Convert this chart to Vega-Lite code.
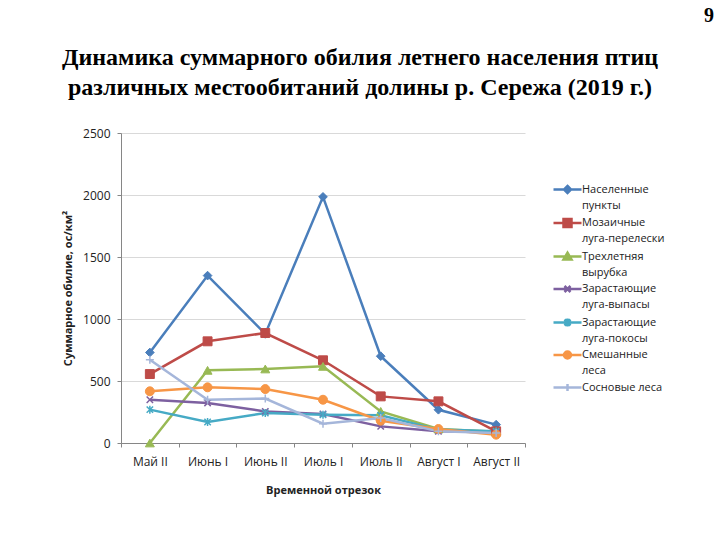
{
  "$schema": "https://vega.github.io/schema/vega-lite/v6.json",
  "width": 404,
  "height": 310,
  "autosize": {"type": "none"},
  "padding": {"left": 121, "top": 133, "right": 195, "bottom": 97},
  "background": "#ffffff",
  "title": {
    "text": ["Динамика суммарного обилия летнего населения птиц", "различных местообитаний долины р. Сережа (2019 г.)"],
    "font": "Liberation Serif",
    "fontSize": 24,
    "fontWeight": "bold",
    "color": "#000000",
    "anchor": "middle",
    "dx": 37,
    "dy": 123,
    "offset": 29,
    "lineHeight": 30
  },
  "config": {
    "view": {"stroke": null},
    "axis": {
      "labelFont": "Open Sans",
      "labelFontSize": 12,
      "labelColor": "#222222",
      "titleFont": "Open Sans",
      "titleFontSize": 11,
      "titleFontWeight": "bold",
      "titleColor": "#222222",
      "domainColor": "#868686",
      "tickColor": "#868686",
      "tickSize": 4
    }
  },
  "resolve": {"legend": {"fill": "independent", "stroke": "independent", "shape": "independent"}},
  "data": {
    "values": [
      {"period": "Май II", "series": "Населенные пункты", "value": 730},
      {"period": "Июнь I", "series": "Населенные пункты", "value": 1350},
      {"period": "Июнь II", "series": "Населенные пункты", "value": 880},
      {"period": "Июль I", "series": "Населенные пункты", "value": 1985},
      {"period": "Июль II", "series": "Населенные пункты", "value": 700},
      {"period": "Август I", "series": "Населенные пункты", "value": 268},
      {"period": "Август II", "series": "Населенные пункты", "value": 148},
      {"period": "Май II", "series": "Мозаичные луга-перелески", "value": 556},
      {"period": "Июнь I", "series": "Мозаичные луга-перелески", "value": 820},
      {"period": "Июнь II", "series": "Мозаичные луга-перелески", "value": 887},
      {"period": "Июль I", "series": "Мозаичные луга-перелески", "value": 667},
      {"period": "Июль II", "series": "Мозаичные луга-перелески", "value": 376},
      {"period": "Август I", "series": "Мозаичные луга-перелески", "value": 336},
      {"period": "Август II", "series": "Мозаичные луга-перелески", "value": 94},
      {"period": "Май II", "series": "Трехлетняя вырубка", "value": 0},
      {"period": "Июнь I", "series": "Трехлетняя вырубка", "value": 586},
      {"period": "Июнь II", "series": "Трехлетняя вырубка", "value": 597},
      {"period": "Июль I", "series": "Трехлетняя вырубка", "value": 618},
      {"period": "Июль II", "series": "Трехлетняя вырубка", "value": 255},
      {"period": "Август I", "series": "Трехлетняя вырубка", "value": 113},
      {"period": "Август II", "series": "Трехлетняя вырубка", "value": 90},
      {"period": "Май II", "series": "Зарастающие луга-выпасы", "value": 349},
      {"period": "Июнь I", "series": "Зарастающие луга-выпасы", "value": 323},
      {"period": "Июнь II", "series": "Зарастающие луга-выпасы", "value": 255},
      {"period": "Июль I", "series": "Зарастающие луга-выпасы", "value": 234},
      {"period": "Июль II", "series": "Зарастающие луга-выпасы", "value": 134},
      {"period": "Август I", "series": "Зарастающие луга-выпасы", "value": 94},
      {"period": "Август II", "series": "Зарастающие луга-выпасы", "value": 86},
      {"period": "Май II", "series": "Зарастающие луга-покосы", "value": 269},
      {"period": "Июнь I", "series": "Зарастающие луга-покосы", "value": 169},
      {"period": "Июнь II", "series": "Зарастающие луга-покосы", "value": 242},
      {"period": "Июль I", "series": "Зарастающие луга-покосы", "value": 228},
      {"period": "Июль II", "series": "Зарастающие луга-покосы", "value": 223},
      {"period": "Август I", "series": "Зарастающие луга-покосы", "value": 108},
      {"period": "Август II", "series": "Зарастающие луга-покосы", "value": 94},
      {"period": "Май II", "series": "Смешанные леса", "value": 417},
      {"period": "Июнь I", "series": "Смешанные леса", "value": 449},
      {"period": "Июнь II", "series": "Смешанные леса", "value": 435},
      {"period": "Июль I", "series": "Смешанные леса", "value": 349},
      {"period": "Июль II", "series": "Смешанные леса", "value": 180},
      {"period": "Август I", "series": "Смешанные леса", "value": 113},
      {"period": "Август II", "series": "Смешанные леса", "value": 67},
      {"period": "Май II", "series": "Сосновые леса", "value": 672},
      {"period": "Июнь I", "series": "Сосновые леса", "value": 349},
      {"period": "Июнь II", "series": "Сосновые леса", "value": 358},
      {"period": "Июль I", "series": "Сосновые леса", "value": 156},
      {"period": "Июль II", "series": "Сосновые леса", "value": 202},
      {"period": "Август I", "series": "Сосновые леса", "value": 94},
      {"period": "Август II", "series": "Сосновые леса", "value": 81}
    ]
  },
  "encoding": {
    "x": {
      "field": "period",
      "type": "nominal",
      "sort": null,
      "scale": {"type": "band", "domain": ["Май II", "Июнь I", "Июнь II", "Июль I", "Июль II", "Август I", "Август II"], "paddingInner": 0, "paddingOuter": 0},
      "axis": {"title": "Временной отрезок", "labelAngle": 0, "tickBand": "extent", "labelPadding": 9, "titlePadding": 17, "grid": false}
    },
    "y": {
      "field": "value",
      "type": "quantitative",
      "scale": {"domain": [0, 2500], "nice": false},
      "axis": {"title": "Суммарное обилие, ос/км²", "values": [0, 500, 1000, 1500, 2000, 2500], "format": "d", "grid": true, "gridColor": "#D9D9D9", "labelPadding": 7, "titlePadding": 9}
    },
    "stroke": {
      "field": "series",
      "type": "nominal",
      "scale": {"domain": ["Населенные пункты", "Мозаичные луга-перелески", "Трехлетняя вырубка", "Зарастающие луга-выпасы", "Зарастающие луга-покосы", "Смешанные леса", "Сосновые леса"], "range": ["#4A7EBB", "#BE4B48", "#98B954", "#7D60A0", "#46AAC5", "#F79646", "#A5B6DA"]},
      "legend": null
    }
  },
  "layer": [
    {
      "mark": {"type": "line", "strokeWidth": 2.5, "opacity": 1}
    },
    {
      "transform": [{"filter": "datum.series == 'Населенные пункты'"}],
      "mark": {"type": "point", "shape": "diamond", "filled": true, "size": 75, "opacity": 1, "strokeWidth": 1},
      "encoding": {"fill": {"field": "series", "type": "nominal", "scale": {"domain": ["Населенные пункты", "Мозаичные луга-перелески", "Трехлетняя вырубка", "Зарастающие луга-выпасы", "Зарастающие луга-покосы", "Смешанные леса", "Сосновые леса"], "range": ["#4A7EBB", "#BE4B48", "#98B954", "#7D60A0", "#46AAC5", "#F79646", "#A5B6DA"]}, "legend": null}}
    },
    {
      "transform": [{"filter": "datum.series == 'Мозаичные луга-перелески'"}],
      "mark": {"type": "point", "shape": "square", "filled": true, "size": 80, "opacity": 1, "strokeWidth": 1},
      "encoding": {"fill": {"field": "series", "type": "nominal", "scale": {"domain": ["Населенные пункты", "Мозаичные луга-перелески", "Трехлетняя вырубка", "Зарастающие луга-выпасы", "Зарастающие луга-покосы", "Смешанные леса", "Сосновые леса"], "range": ["#4A7EBB", "#BE4B48", "#98B954", "#7D60A0", "#46AAC5", "#F79646", "#A5B6DA"]}, "legend": null}}
    },
    {
      "transform": [{"filter": "datum.series == 'Трехлетняя вырубка'"}],
      "mark": {"type": "point", "shape": "triangle-up", "filled": true, "size": 80, "opacity": 1, "strokeWidth": 1},
      "encoding": {"fill": {"field": "series", "type": "nominal", "scale": {"domain": ["Населенные пункты", "Мозаичные луга-перелески", "Трехлетняя вырубка", "Зарастающие луга-выпасы", "Зарастающие луга-покосы", "Смешанные леса", "Сосновые леса"], "range": ["#4A7EBB", "#BE4B48", "#98B954", "#7D60A0", "#46AAC5", "#F79646", "#A5B6DA"]}, "legend": null}}
    },
    {
      "transform": [{"filter": "datum.series == 'Зарастающие луга-выпасы'"}],
      "mark": {"type": "point", "shape": "M-0.8,-0.8L0.8,0.8M-0.8,0.8L0.8,-0.8", "filled": true, "size": 64, "opacity": 1, "strokeWidth": 1.5},
      "encoding": {"fill": {"field": "series", "type": "nominal", "scale": {"domain": ["Населенные пункты", "Мозаичные луга-перелески", "Трехлетняя вырубка", "Зарастающие луга-выпасы", "Зарастающие луга-покосы", "Смешанные леса", "Сосновые леса"], "range": ["#4A7EBB", "#BE4B48", "#98B954", "#7D60A0", "#46AAC5", "#F79646", "#A5B6DA"]}, "legend": null}}
    },
    {
      "transform": [{"filter": "datum.series == 'Зарастающие луга-покосы'"}],
      "mark": {"type": "point", "shape": "M-0.8,-0.8L0.8,0.8M-0.8,0.8L0.8,-0.8M0,-1L0,1", "filled": true, "size": 64, "opacity": 1, "strokeWidth": 1.5},
      "encoding": {"fill": {"field": "series", "type": "nominal", "scale": {"domain": ["Населенные пункты", "Мозаичные луга-перелески", "Трехлетняя вырубка", "Зарастающие луга-выпасы", "Зарастающие луга-покосы", "Смешанные леса", "Сосновые леса"], "range": ["#4A7EBB", "#BE4B48", "#98B954", "#7D60A0", "#46AAC5", "#F79646", "#A5B6DA"]}, "legend": null}}
    },
    {
      "transform": [{"filter": "datum.series == 'Смешанные леса'"}],
      "mark": {"type": "point", "shape": "circle", "filled": true, "size": 80, "opacity": 1, "strokeWidth": 1},
      "encoding": {"fill": {"field": "series", "type": "nominal", "scale": {"domain": ["Населенные пункты", "Мозаичные луга-перелески", "Трехлетняя вырубка", "Зарастающие луга-выпасы", "Зарастающие луга-покосы", "Смешанные леса", "Сосновые леса"], "range": ["#4A7EBB", "#BE4B48", "#98B954", "#7D60A0", "#46AAC5", "#F79646", "#A5B6DA"]}, "legend": null}}
    },
    {
      "transform": [{"filter": "datum.series == 'Сосновые леса'"}],
      "mark": {"type": "point", "shape": "M-1,0L1,0M0,-1L0,1", "filled": true, "size": 64, "opacity": 1, "strokeWidth": 1.5},
      "encoding": {"fill": {"field": "series", "type": "nominal", "scale": {"domain": ["Населенные пункты", "Мозаичные луга-перелески", "Трехлетняя вырубка", "Зарастающие луга-выпасы", "Зарастающие луга-покосы", "Смешанные леса", "Сосновые леса"], "range": ["#4A7EBB", "#BE4B48", "#98B954", "#7D60A0", "#46AAC5", "#F79646", "#A5B6DA"]}, "legend": null}}
    },
    {
      "transform": [{"filter": "false"}],
      "mark": {"type": "point", "filled": true, "opacity": 1, "strokeWidth": 2.5},
      "encoding": {
        "fill": {
          "field": "series", "type": "nominal",
          "scale": {"domain": ["Населенные пункты", "Мозаичные луга-перелески", "Трехлетняя вырубка", "Зарастающие луга-выпасы", "Зарастающие луга-покосы", "Смешанные леса", "Сосновые леса"], "range": ["#4A7EBB", "#BE4B48", "#98B954", "#7D60A0", "#46AAC5", "#F79646", "#A5B6DA"]},
          "legend": {"title": "9", "orient": "none", "legendX": 440, "legendY": -127, "padding": 0, "titleFont": "Liberation Serif", "titleFontSize": 20, "titleFontWeight": "bold", "titleColor": "#000000", "titlePadding": 157, "symbolSize": 100, "symbolStrokeWidth": 2.5, "symbolOpacity": 1, "labelFont": "Open Sans", "labelFontSize": 11, "labelColor": "#222222", "labelOffset": 8, "labelLimit": 200, "rowPadding": 2.5, "labelExpr": "datum.label == 'Сосновые леса' ? datum.label : split(datum.label, ' ')", "encode": {"labels": {"update": {"lineHeight": {"value": 16}}}, "title": {"update": {"dx": {"value": 143}}}}}
        },
        "stroke": {
          "field": "series", "type": "nominal",
          "scale": {"domain": ["Населенные пункты", "Мозаичные луга-перелески", "Трехлетняя вырубка", "Зарастающие луга-выпасы", "Зарастающие луга-покосы", "Смешанные леса", "Сосновые леса"], "range": ["#4A7EBB", "#BE4B48", "#98B954", "#7D60A0", "#46AAC5", "#F79646", "#A5B6DA"]},
          "legend": {"title": "9", "orient": "none", "legendX": 440, "legendY": -127, "padding": 0, "titleFont": "Liberation Serif", "titleFontSize": 20, "titleFontWeight": "bold", "titleColor": "#000000", "titlePadding": 157, "symbolSize": 100, "symbolStrokeWidth": 2.5, "symbolOpacity": 1, "labelFont": "Open Sans", "labelFontSize": 11, "labelColor": "#222222", "labelOffset": 8, "labelLimit": 200, "rowPadding": 2.5, "labelExpr": "datum.label == 'Сосновые леса' ? datum.label : split(datum.label, ' ')", "encode": {"labels": {"update": {"lineHeight": {"value": 16}}}, "title": {"update": {"dx": {"value": 143}}}}}
        },
        "shape": {
          "field": "series", "type": "nominal",
          "scale": {"domain": ["Населенные пункты", "Мозаичные луга-перелески", "Трехлетняя вырубка", "Зарастающие луга-выпасы", "Зарастающие луга-покосы", "Смешанные леса", "Сосновые леса"], "range": [
            "M-2.8,0L2.8,0M0,-0.7L0.7,0L0,0.7L-0.7,0Z",
            "M-2.8,0L2.8,0M-0.8,-0.8L0.8,-0.8L0.8,0.8L-0.8,0.8Z",
            "M-2.8,0L2.8,0M0,-0.75L0.8,0.6L-0.8,0.6Z",
            "M-2.8,0L2.8,0M-0.6,-0.6L0.6,0.6M-0.6,0.6L0.6,-0.6",
            "M-2.8,0L2.8,0M-0.6,-0.6L0.6,0.6M-0.6,0.6L0.6,-0.6M0,-0.8L0,0.8",
            "M-2.8,0L2.8,0M-0.7,0A0.7,0.7,0,1,1,0.7,0A0.7,0.7,0,1,1,-0.7,0Z",
            "M-2.8,0L2.8,0M0,-0.7L0,0.7"
          ]},
          "legend": {"title": "9", "orient": "none", "legendX": 440, "legendY": -127, "padding": 0, "titleFont": "Liberation Serif", "titleFontSize": 20, "titleFontWeight": "bold", "titleColor": "#000000", "titlePadding": 157, "symbolSize": 100, "symbolStrokeWidth": 2.5, "symbolOpacity": 1, "labelFont": "Open Sans", "labelFontSize": 11, "labelColor": "#222222", "labelOffset": 8, "labelLimit": 200, "rowPadding": 2.5, "labelExpr": "datum.label == 'Сосновые леса' ? datum.label : split(datum.label, ' ')", "encode": {"labels": {"update": {"lineHeight": {"value": 16}}}, "title": {"update": {"dx": {"value": 143}}}}}
        }
      }
    }
  ]
}
